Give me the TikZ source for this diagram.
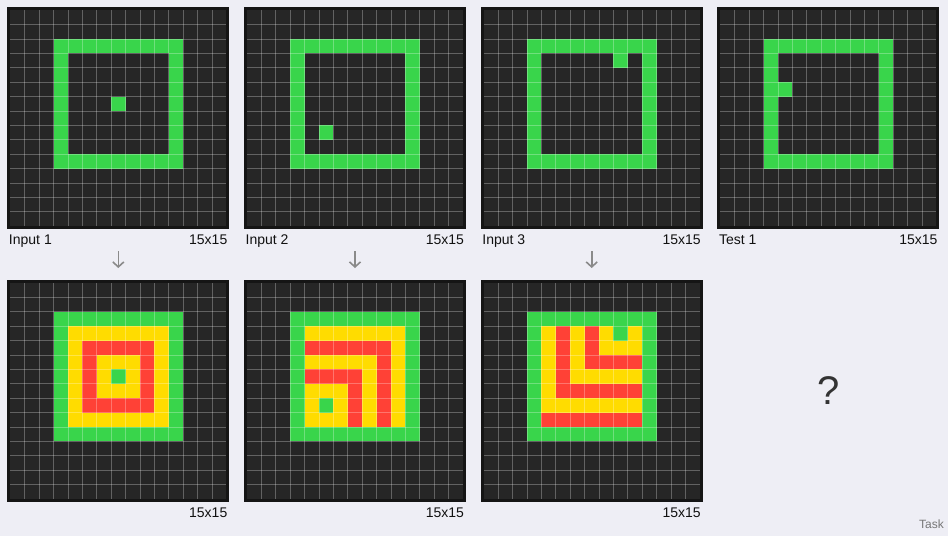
\documentclass[tikz,border=0pt]{standalone}
\usepackage{fontspec}
\setmainfont{Liberation Sans}
\usetikzlibrary{arrows.meta}
\definecolor{pagebg}{HTML}{EEEEF5}
\definecolor{frame}{HTML}{151515}
\definecolor{cellbg}{HTML}{262626}
\definecolor{arcgreen}{HTML}{39D54B}
\definecolor{arcyellow}{HTML}{FFDC00}
\definecolor{arcred}{HTML}{FF4136}
\definecolor{lbltext}{HTML}{111111}
\definecolor{arrowgrey}{HTML}{8A8A8A}
\definecolor{qgrey}{HTML}{333333}
\definecolor{taskgrey}{HTML}{777777}
\tikzset{
  gridbox/.style={draw=none,fill=frame,minimum size=222pt,inner sep=0pt,outer sep=0pt,anchor=north west},
  gridline/.style={white,opacity=0.28,line width=0.8pt},
  lbl/.style={inner sep=0pt,text=lbltext,font=\fontsize{14}{16}\selectfont},
  downarrow/.style={draw=arrowgrey,line width=1.6pt,-{Straight Barb[length=5pt,width=11pt,line width=1.6pt]}},
}
\newcommand\gridstart[1]{\begin{scope}[shift={([xshift=3pt,yshift=-3pt]#1.north west)},x=14.4pt,y=-14.4pt]
  \fill[cellbg] (0,0) rectangle (15,15);}
\newcommand\gridend{\foreach \i in {1,...,14}{\draw[gridline] (\i,0) -- (\i,15); \draw[gridline] (0,\i) -- (15,\i);}\end{scope}}
\newcommand\inputcells[2]{% dot row, col
  \fill[arcgreen] (3,2) rectangle (12,11);
  \fill[cellbg] (4,3) rectangle (11,10);
  \fill[arcgreen] (#2,#1) rectangle ++(1,1);}
\newcommand\outputcells[2]{% dot row, col
  \fill[arcgreen] (3,2) rectangle (12,11);
  \foreach \r in {3,...,9}{\foreach \c in {4,...,10}{%
    \pgfmathtruncatemacro\dd{max(abs(\r-#1),abs(\c-#2))}%
    \ifnum\dd=0 \def\cc{arcgreen}\else\ifodd\dd\def\cc{arcyellow}\else\def\cc{arcred}\fi\fi
    \fill[\cc] (\c,\r) rectangle ++(1,1);}}}
\begin{document}
\begin{tikzpicture}[x=1pt,y=-1pt]
\fill[pagebg] (0,0) rectangle (948,536);
\useasboundingbox (0,0) rectangle (948,536);
% top row
\node[gridbox] (in1) at (7.3,7.2) {};
\node[gridbox] (in2) at (244,7.2) {};
\node[gridbox] (in3) at (480.7,7.2) {};
\node[gridbox] (test1) at (717.4,7.2) {};
% bottom row
\node[gridbox] (out1) at (7.3,280) {};
\node[gridbox] (out2) at (244,280) {};
\node[gridbox] (out3) at (480.7,280) {};

\gridstart{in1}\inputcells{6}{7}\gridend
\gridstart{in2}\inputcells{8}{5}\gridend
\gridstart{in3}\inputcells{3}{9}\gridend
\gridstart{test1}\inputcells{5}{4}\gridend
\gridstart{out1}\outputcells{6}{7}\gridend
\gridstart{out2}\outputcells{8}{5}\gridend
\gridstart{out3}\outputcells{3}{9}\gridend

% labels
\node[lbl,anchor=base west] (l1) at (8.8,244.8) {Input 1};
\node[lbl,anchor=base east] (s1) at (227.5,244.8) {15x15};
\node[lbl,anchor=base west] (l2) at (245.5,244.8) {Input 2};
\node[lbl,anchor=base east] (s2) at (464.2,244.8) {15x15};
\node[lbl,anchor=base west] (l3) at (482.2,244.8) {Input 3};
\node[lbl,anchor=base east] (s3) at (700.9,244.8) {15x15};
\node[lbl,anchor=base west] (l4) at (718.9,244.8) {Test 1};
\node[lbl,anchor=base east] (s4) at (937.6,244.8) {15x15};
\node[lbl,anchor=base east] (s5) at (227.5,517.8) {15x15};
\node[lbl,anchor=base east] (s6) at (464.2,517.8) {15x15};
\node[lbl,anchor=base east] (s7) at (700.9,517.8) {15x15};

% arrows
\coordinate (a1s) at (118.3,251); \coordinate (a1e) at (118.3,268);
\coordinate (a2s) at (355,251);   \coordinate (a2e) at (355,268);
\coordinate (a3s) at (591.7,251); \coordinate (a3e) at (591.7,268);
\draw[downarrow] (a1s) -- (a1e);
\draw[downarrow] (a2s) -- (a2e);
\draw[downarrow] (a3s) -- (a3e);

\node[inner sep=0pt,text=qgrey,font=\fontsize{40}{42}\selectfont] (q) at (828.4,391) {?};
\node[inner sep=0pt,text=taskgrey,font=\fontsize{12}{14}\selectfont,anchor=base east] (task) at (944,528.5) {Task};
\end{tikzpicture}
\end{document}
